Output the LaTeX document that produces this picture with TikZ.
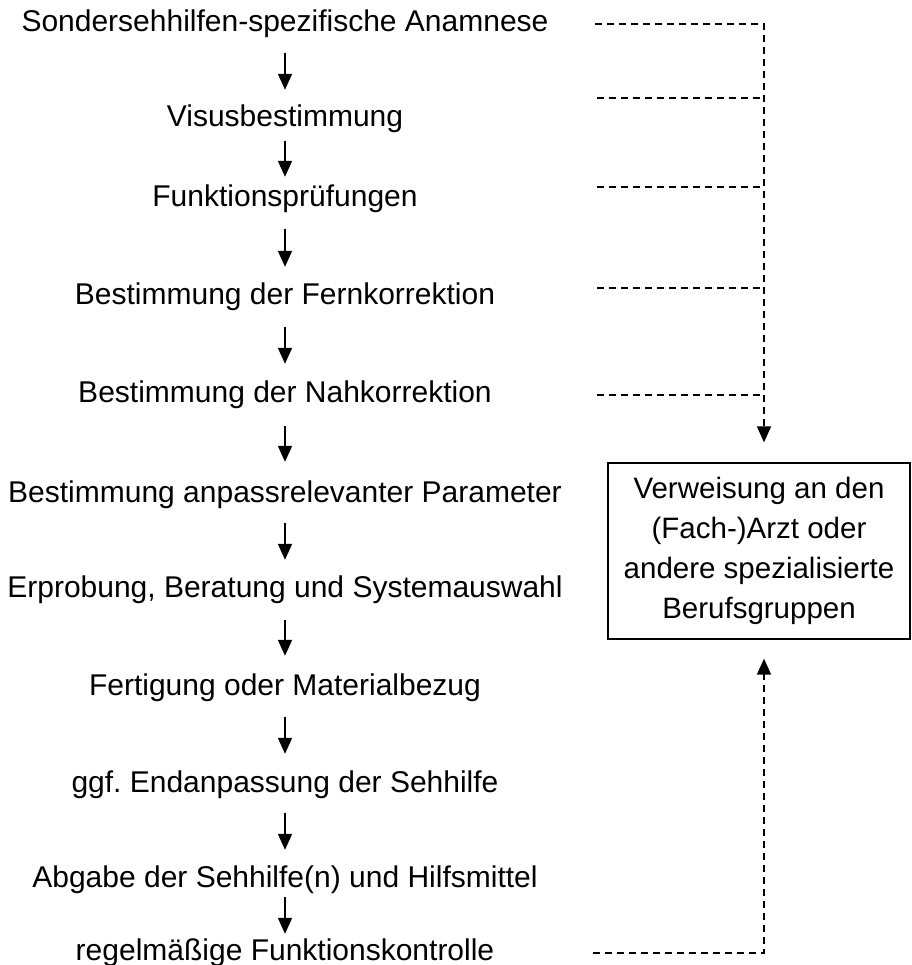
\documentclass[tikz,border=0pt]{standalone}
\usepackage{fontspec}
\setmainfont{Liberation Sans}
\usetikzlibrary{arrows.meta,positioning}
\frenchspacing

\begin{document}
\begin{tikzpicture}[x=1pt, y=-1pt,
      font=\fontsize{29.5}{40}\selectfont,
      stage/.style={anchor=base, inner sep=0pt, text height=22pt, text depth=6pt,
        font=\fontsize{30}{40}\selectfont},
      arr/.style={-{Triangle[length=16pt, width=14pt]}, line width=1.8pt},
      gap/.style={shorten <=#1, shorten >=#1},
      dsh/.style={line width=1.7pt, dash pattern=on 7pt off 5pt},
      dsharr/.style={dsh, -{Triangle[length=16pt, width=14pt]}, shorten >=19pt},
      refbox/.style={draw, line width=1.3pt, align=center, inner sep=0pt,
        minimum width=302pt, minimum height=176pt},
    ]
    \useasboundingbox (0,0) rectangle (911,965);
    \node[stage] (anam) at (285,32) {Sondersehhilfen-spezifische Anamnese};
    \node[stage] (visus) at (285,127) {Visusbestimmung};
    \node[stage] (funk) at (285,207) {Funktionsprüfungen};
    \node[stage] (fern) at (285,305) {Bestimmung der Fernkorrektion};
    \node[stage] (nah) at (285,402) {Bestimmung der Nahkorrektion};
    \node[stage] (param) at (285,502) {Bestimmung anpassrelevanter Parameter};
    \node[stage] (erpr) at (285,597) {Erprobung, Beratung und Systemauswahl};
    \node[stage] (fert) at (285,695) {Fertigung oder Materialbezug};
    \node[stage] (endan) at (285,792) {ggf. Endanpassung der Sehhilfe};
    \node[stage] (abg) at (285,887) {Abgabe der Sehhilfe(n) und Hilfsmittel};
    \node[stage] (kontr) at (285,960) {regelmäßige Funktionskontrolle};
    \draw[arr, gap=15pt] (anam)--(visus); \draw[arr, gap=8pt] (visus)--(funk);
    \draw[arr, gap=16pt] (funk)--(fern); \draw[arr, gap=16pt] (fern)--(nah);
    \draw[arr, gap=18pt] (nah)--(param); \draw[arr, gap=15pt] (param)--(erpr);
    \draw[arr, gap=17pt] (erpr)--(fert); \draw[arr, gap=16pt] (fert)--(endan);
    \draw[arr, gap=15pt] (endan)--(abg); \draw[arr, gap=4pt] (abg)--(kontr);
    % referral box and dashed feedback lines
    \node[refbox] (verw) at (759,551) {Verweisung an den\\(Fach-)Arzt oder\\andere spezialisierte\\Berufsgruppen};
    \coordinate (h1) at (595,24); \coordinate (v1) at (764,24);
    \coordinate (h2) at (597,98); \coordinate (v2) at (764,98);
    \coordinate (h3) at (597,187); \coordinate (v3) at (764,187);
    \coordinate (h4) at (597,288); \coordinate (v4) at (764,288);
    \coordinate (h5) at (597,395); \coordinate (v5) at (764,395);
    \coordinate (h6) at (593,953); \coordinate (v6) at (764,953);
    \draw[dsharr, shorten >=20pt] (h1)--(v1)--(v1 |- verw.north);
    \draw[dsh] (h2)--(v2); \draw[dsh] (h3)--(v3);
    \draw[dsh] (h4)--(v4); \draw[dsh] (h5)--(v5);
    \draw[dsharr] (h6)--(v6)--(v6 |- verw.south);
  \end{tikzpicture}
\end{document}
